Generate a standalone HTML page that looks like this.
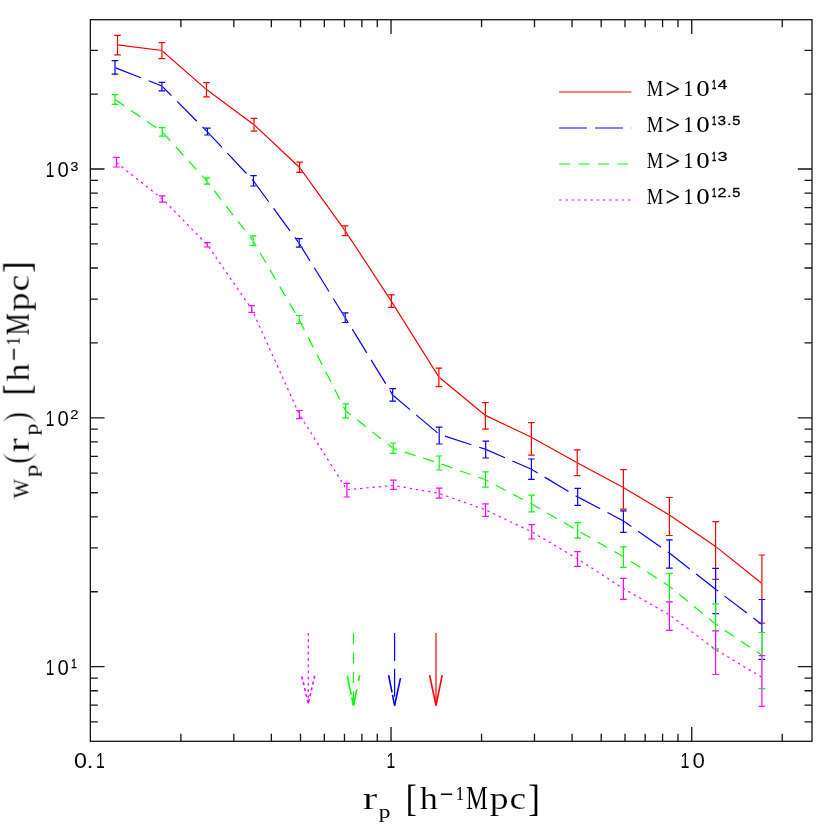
<!DOCTYPE html>
<html><head><meta charset="utf-8"><title>wp(rp)</title>
<style>
html,body{margin:0;padding:0;background:#fff;}
svg{display:block;}
text{font-family:"Liberation Serif",serif;fill:#000;}
.ss{font-family:"Liberation Sans",sans-serif;}
</style></head><body>
<svg width="830" height="830" viewBox="0 0 830 830">
<rect width="830" height="830" fill="#fff"/>

<g fill="none" stroke="#151515" stroke-width="1.3">
<rect x="90.35" y="19.7" width="721.65" height="721.60"/>
<path d="M391.04 741.30v-14.2M391.04 19.70v14.2M691.73 741.30v-14.2M691.73 19.70v14.2M180.87 741.30v-7.5M180.87 19.70v7.5M233.81 741.30v-7.5M233.81 19.70v7.5M271.38 741.30v-7.5M271.38 19.70v7.5M300.52 741.30v-7.5M300.52 19.70v7.5M324.33 741.30v-7.5M324.33 19.70v7.5M344.46 741.30v-7.5M344.46 19.70v7.5M361.90 741.30v-7.5M361.90 19.70v7.5M377.28 741.30v-7.5M377.28 19.70v7.5M481.55 741.30v-7.5M481.55 19.70v7.5M534.50 741.30v-7.5M534.50 19.70v7.5M572.07 741.30v-7.5M572.07 19.70v7.5M601.21 741.30v-7.5M601.21 19.70v7.5M625.02 741.30v-7.5M625.02 19.70v7.5M645.15 741.30v-7.5M645.15 19.70v7.5M662.59 741.30v-7.5M662.59 19.70v7.5M677.97 741.30v-7.5M677.97 19.70v7.5M782.24 741.30v-7.5M782.24 19.70v7.5M90.35 666.65h14.2M812.00 666.65h-14.2M90.35 417.82h14.2M812.00 417.82h-14.2M90.35 169.00h14.2M812.00 169.00h-14.2M90.35 721.85h7.5M812.00 721.85h-7.5M90.35 705.20h7.5M812.00 705.20h-7.5M90.35 690.77h7.5M812.00 690.77h-7.5M90.35 678.04h7.5M812.00 678.04h-7.5M90.35 591.75h7.5M812.00 591.75h-7.5M90.35 547.93h7.5M812.00 547.93h-7.5M90.35 516.84h7.5M812.00 516.84h-7.5M90.35 492.73h7.5M812.00 492.73h-7.5M90.35 473.03h7.5M812.00 473.03h-7.5M90.35 456.37h7.5M812.00 456.37h-7.5M90.35 441.94h7.5M812.00 441.94h-7.5M90.35 429.21h7.5M812.00 429.21h-7.5M90.35 342.92h7.5M812.00 342.92h-7.5M90.35 299.10h7.5M812.00 299.10h-7.5M90.35 268.02h7.5M812.00 268.02h-7.5M90.35 243.90h7.5M812.00 243.90h-7.5M90.35 224.20h7.5M812.00 224.20h-7.5M90.35 207.54h7.5M812.00 207.54h-7.5M90.35 193.11h7.5M812.00 193.11h-7.5M90.35 180.38h7.5M812.00 180.38h-7.5M90.35 94.09h7.5M812.00 94.09h-7.5M90.35 50.28h7.5M812.00 50.28h-7.5"/>
</g>
<g fill="none" stroke="#f00" stroke-width="1.2"><polyline points="117.5,44.9 161.9,50.5 206.5,89.6 254.0,124.8 299.6,167.5 345.2,230.8 391.4,301.3 438.9,377.0 485.4,415.4 531.4,437.3 577.2,462.7 623.4,487.5 669.4,515.1 715.6,546.4 761.9,583.5"/><path d="M117.5 35.4V54.9M114.2 35.4h6.6M114.2 54.9h6.6M161.9 42.7V58.6M158.6 42.7h6.6M158.6 58.6h6.6M206.5 82.7V96.9M203.2 82.7h6.6M203.2 96.9h6.6M254.0 118.4V131.2M250.7 118.4h6.6M250.7 131.2h6.6M299.6 162.2V172.3M296.3 162.2h6.6M296.3 172.3h6.6M345.2 225.8V235.7M341.9 225.8h6.6M341.9 235.7h6.6M391.4 294.8V307.3M388.1 294.8h6.6M388.1 307.3h6.6M438.9 368.1V386.6M435.6 368.1h6.6M435.6 386.6h6.6M485.4 402.7V429.2M482.1 402.7h6.6M482.1 429.2h6.6M531.4 422.7V455.2M528.1 422.7h6.6M528.1 455.2h6.6M577.2 449.9V475.7M573.9 449.9h6.6M573.9 475.7h6.6M623.4 469.7V509.2M620.1 469.7h6.6M620.1 509.2h6.6M669.4 497.5V535.5M666.1 497.5h6.6M666.1 535.5h6.6M715.6 521.6V579.4M712.3 521.6h6.6M712.3 579.4h6.6M761.9 555.0V623.2M758.6 555.0h6.6M758.6 623.2h6.6" stroke="#fff"/><path d="M117.5 35.4V54.9M114.2 35.4h6.6M114.2 54.9h6.6M161.9 42.7V58.6M158.6 42.7h6.6M158.6 58.6h6.6M206.5 82.7V96.9M203.2 82.7h6.6M203.2 96.9h6.6M254.0 118.4V131.2M250.7 118.4h6.6M250.7 131.2h6.6M299.6 162.2V172.3M296.3 162.2h6.6M296.3 172.3h6.6M345.2 225.8V235.7M341.9 225.8h6.6M341.9 235.7h6.6M391.4 294.8V307.3M388.1 294.8h6.6M388.1 307.3h6.6M438.9 368.1V386.6M435.6 368.1h6.6M435.6 386.6h6.6M485.4 402.7V429.2M482.1 402.7h6.6M482.1 429.2h6.6M531.4 422.7V455.2M528.1 422.7h6.6M528.1 455.2h6.6M577.2 449.9V475.7M573.9 449.9h6.6M573.9 475.7h6.6M623.4 469.7V509.2M620.1 469.7h6.6M620.1 509.2h6.6M669.4 497.5V535.5M666.1 497.5h6.6M666.1 535.5h6.6M715.6 521.6V579.4M712.3 521.6h6.6M712.3 579.4h6.6M761.9 555.0V623.2M758.6 555.0h6.6M758.6 623.2h6.6"/></g>
<g fill="none" stroke="#00f" stroke-width="1.2"><polyline points="115.0,67.6 161.9,86.0 207.4,131.9 253.5,181.0 299.2,243.4 345.2,317.7 392.7,395.0 439.2,434.3 485.7,449.4 531.4,469.2 577.7,496.9 623.4,521.0 669.4,553.1 715.6,589.2 761.9,624.5" stroke-dasharray="27.85 8.2" stroke-dashoffset="0"/><path d="M115.0 60.7V74.2M111.7 60.7h6.6M111.7 74.2h6.6M161.9 82.4V90.8M158.6 82.4h6.6M158.6 90.8h6.6M207.4 128.2V135.0M204.1 128.2h6.6M204.1 135.0h6.6M253.5 175.7V186.0M250.2 175.7h6.6M250.2 186.0h6.6M299.2 238.6V247.2M295.9 238.6h6.6M295.9 247.2h6.6M345.2 312.9V322.5M341.9 312.9h6.6M341.9 322.5h6.6M392.7 388.7V401.2M389.4 388.7h6.6M389.4 401.2h6.6M439.2 427.1V444.0M435.9 427.1h6.6M435.9 444.0h6.6M485.7 441.1V458.0M482.4 441.1h6.6M482.4 458.0h6.6M531.4 459.0V479.3M528.1 459.0h6.6M528.1 479.3h6.6M577.7 488.4V505.3M574.4 488.4h6.6M574.4 505.3h6.6M623.4 510.9V532.3M620.1 510.9h6.6M620.1 532.3h6.6M669.4 539.9V568.1M666.1 539.9h6.6M666.1 568.1h6.6M715.6 568.3V613.7M712.3 568.3h6.6M712.3 613.7h6.6M761.9 599.5V659.3M758.6 599.5h6.6M758.6 659.3h6.6" stroke="#fff"/><path d="M115.0 60.7V74.2M111.7 60.7h6.6M111.7 74.2h6.6M161.9 82.4V90.8M158.6 82.4h6.6M158.6 90.8h6.6M207.4 128.2V135.0M204.1 128.2h6.6M204.1 135.0h6.6M253.5 175.7V186.0M250.2 175.7h6.6M250.2 186.0h6.6M299.2 238.6V247.2M295.9 238.6h6.6M295.9 247.2h6.6M345.2 312.9V322.5M341.9 312.9h6.6M341.9 322.5h6.6M392.7 388.7V401.2M389.4 388.7h6.6M389.4 401.2h6.6M439.2 427.1V444.0M435.9 427.1h6.6M435.9 444.0h6.6M485.7 441.1V458.0M482.4 441.1h6.6M482.4 458.0h6.6M531.4 459.0V479.3M528.1 459.0h6.6M528.1 479.3h6.6M577.7 488.4V505.3M574.4 488.4h6.6M574.4 505.3h6.6M623.4 510.9V532.3M620.1 510.9h6.6M620.1 532.3h6.6M669.4 539.9V568.1M666.1 539.9h6.6M666.1 568.1h6.6M715.6 568.3V613.7M712.3 568.3h6.6M712.3 613.7h6.6M761.9 599.5V659.3M758.6 599.5h6.6M758.6 659.3h6.6"/></g>
<g fill="none" stroke="#0f0" stroke-width="1.2"><polyline points="115.0,99.5 162.3,132.0 206.9,181.2 253.1,240.8 299.2,319.9 345.7,410.8 393.1,448.3 439.2,463.3 485.5,479.8 531.7,504.1 577.7,530.6 623.4,556.7 669.4,586.2 715.6,624.1 761.9,655.2" stroke-dasharray="11.2 8.2" stroke-dashoffset="0"/><path d="M115.0 94.7V104.3M111.7 94.7h6.6M111.7 104.3h6.6M162.3 127.7V136.1M159.0 127.7h6.6M159.0 136.1h6.6M206.9 177.8V184.1M203.6 177.8h6.6M203.6 184.1h6.6M253.1 235.9V245.5M249.8 235.9h6.6M249.8 245.5h6.6M299.2 315.5V323.5M295.9 315.5h6.6M295.9 323.5h6.6M345.7 403.8V417.8M342.4 403.8h6.6M342.4 417.8h6.6M393.1 443.0V453.4M389.8 443.0h6.6M389.8 453.4h6.6M439.2 456.0V470.0M435.9 456.0h6.6M435.9 470.0h6.6M485.5 471.9V487.2M482.2 471.9h6.6M482.2 487.2h6.6M531.7 495.2V511.8M528.4 495.2h6.6M528.4 511.8h6.6M577.7 522.7V538.1M574.4 522.7h6.6M574.4 538.1h6.6M623.4 546.8V567.4M620.1 546.8h6.6M620.1 567.4h6.6M669.4 573.4V601.9M666.1 573.4h6.6M666.1 601.9h6.6M715.6 603.8V648.9M712.3 603.8h6.6M712.3 648.9h6.6M761.9 632.5V688.7M758.6 632.5h6.6M758.6 688.7h6.6" stroke="#fff"/><path d="M115.0 94.7V104.3M111.7 94.7h6.6M111.7 104.3h6.6M162.3 127.7V136.1M159.0 127.7h6.6M159.0 136.1h6.6M206.9 177.8V184.1M203.6 177.8h6.6M203.6 184.1h6.6M253.1 235.9V245.5M249.8 235.9h6.6M249.8 245.5h6.6M299.2 315.5V323.5M295.9 315.5h6.6M295.9 323.5h6.6M345.7 403.8V417.8M342.4 403.8h6.6M342.4 417.8h6.6M393.1 443.0V453.4M389.8 443.0h6.6M389.8 453.4h6.6M439.2 456.0V470.0M435.9 456.0h6.6M435.9 470.0h6.6M485.5 471.9V487.2M482.2 471.9h6.6M482.2 487.2h6.6M531.7 495.2V511.8M528.4 495.2h6.6M528.4 511.8h6.6M577.7 522.7V538.1M574.4 522.7h6.6M574.4 538.1h6.6M623.4 546.8V567.4M620.1 546.8h6.6M620.1 567.4h6.6M669.4 573.4V601.9M666.1 573.4h6.6M666.1 601.9h6.6M715.6 603.8V648.9M712.3 603.8h6.6M712.3 648.9h6.6M761.9 632.5V688.7M758.6 632.5h6.6M758.6 688.7h6.6"/></g>
<g fill="none" stroke="#f0f" stroke-width="1.2"><polyline points="116.5,162.7 162.3,198.8 207.3,244.8 251.7,309.0 299.4,414.6 346.9,489.8 393.4,485.4 439.2,493.4 485.5,509.8 531.7,531.8 577.5,558.8 623.4,588.6 669.4,614.8 715.6,649.6 761.9,677.3" stroke-dasharray="2.4 3.85" stroke-dashoffset="0"/><path d="M116.5 157.3V167.0M113.2 157.3h6.6M113.2 167.0h6.6M162.3 195.9V202.2M159.0 195.9h6.6M159.0 202.2h6.6M207.3 242.7V247.0M204.0 242.7h6.6M204.0 247.0h6.6M251.7 305.7V312.4M248.4 305.7h6.6M248.4 312.4h6.6M299.4 410.5V418.7M296.1 410.5h6.6M296.1 418.7h6.6M346.9 483.3V497.0M343.6 483.3h6.6M343.6 497.0h6.6M393.4 480.1V489.3M390.1 480.1h6.6M390.1 489.3h6.6M439.2 488.1V498.2M435.9 488.1h6.6M435.9 498.2h6.6M485.5 503.8V516.4M482.2 503.8h6.6M482.2 516.4h6.6M531.7 524.6V539.0M528.4 524.6h6.6M528.4 539.0h6.6M577.5 551.6V566.3M574.2 551.6h6.6M574.2 566.3h6.6M623.4 578.4V599.4M620.1 578.4h6.6M620.1 599.4h6.6M669.4 601.8V630.4M666.1 601.8h6.6M666.1 630.4h6.6M715.6 630.9V674.5M712.3 630.9h6.6M712.3 674.5h6.6M761.9 655.7V706.3M758.6 655.7h6.6M758.6 706.3h6.6" stroke="#fff"/><path d="M116.5 157.3V167.0M113.2 157.3h6.6M113.2 167.0h6.6M162.3 195.9V202.2M159.0 195.9h6.6M159.0 202.2h6.6M207.3 242.7V247.0M204.0 242.7h6.6M204.0 247.0h6.6M251.7 305.7V312.4M248.4 305.7h6.6M248.4 312.4h6.6M299.4 410.5V418.7M296.1 410.5h6.6M296.1 418.7h6.6M346.9 483.3V497.0M343.6 483.3h6.6M343.6 497.0h6.6M393.4 480.1V489.3M390.1 480.1h6.6M390.1 489.3h6.6M439.2 488.1V498.2M435.9 488.1h6.6M435.9 498.2h6.6M485.5 503.8V516.4M482.2 503.8h6.6M482.2 516.4h6.6M531.7 524.6V539.0M528.4 524.6h6.6M528.4 539.0h6.6M577.5 551.6V566.3M574.2 551.6h6.6M574.2 566.3h6.6M623.4 578.4V599.4M620.1 578.4h6.6M620.1 599.4h6.6M669.4 601.8V630.4M666.1 601.8h6.6M666.1 630.4h6.6M715.6 630.9V674.5M712.3 630.9h6.6M712.3 674.5h6.6M761.9 655.7V706.3M758.6 655.7h6.6M758.6 706.3h6.6"/></g>
<g fill="none" stroke="#f00" stroke-width="1.2"><path d="M436.0 633.0V705.5"/><path d="M429.6 675.2L436.0 705.5" stroke-width="1.6"/><path d="M442.2 675.2L436.0 705.5" stroke-width="1.6"/></g>
<g fill="none" stroke="#00f" stroke-width="1.2"><path d="M394.6 633.0V705.5" stroke-dasharray="28 7.8"/><path d="M388.6 675.2L394.6 705.5" stroke-dasharray="17.5 2.5 20" stroke-width="1.6"/><path d="M400.5 678.2L394.6 705.5" stroke-width="1.6"/></g>
<g fill="none" stroke="#0f0" stroke-width="1.2"><path d="M353.5 633.0V705.5" stroke-dasharray="11.2 8.2"/><path d="M347.2 675.8L353.5 705.5" stroke-dasharray="19.5 2.5 20" stroke-width="1.6"/><path d="M359.7 675.2L353.5 705.5" stroke-dasharray="5.8 8.6 30" stroke-width="1.6"/></g>
<g fill="none" stroke="#f0f" stroke-width="1.2"><path d="M308.3 633.0V703.6" stroke-dasharray="2.65 3.6"/><path d="M301.8 676.4L308.3 703.6" stroke-dasharray="3.0 3.0" stroke-width="1.6"/><path d="M314.7 675.8L308.3 703.6" stroke-dasharray="3.0 3.0" stroke-width="1.6"/></g>
<g fill="none" stroke-width="1.2">
<path d="M559.1 92.0H631.4" stroke="#f00"/>
<path d="M559.1 128.0H631.4" stroke="#00f" stroke-dasharray="27.8 8.2"/>
<path d="M559.1 164.0H631.4" stroke="#0f0" stroke-dasharray="11.2 8.2"/>
<path d="M559.1 200.0H631.4" stroke="#f0f" stroke-dasharray="2.65 3.6"/>
</g>
<g id="labels" style="filter:grayscale(1)">
<text transform="matrix(0.7828 0 0 1 646.76 95.70)" font-size="23.82" style="font-family:&quot;Liberation Serif&quot;" >M</text>
<text transform="matrix(0.9729 0 0 1 665.57 97.95)" font-size="26.95" style="font-family:&quot;Liberation Serif&quot;"  stroke="#000" stroke-width="0.26">&gt;</text>
<text transform="matrix(0.8775 0 0 1 683.28 95.70)" font-size="23.63" style="font-family:&quot;Liberation Serif&quot;" >1</text>
<text transform="matrix(1.1204 0 0 1 696.28 95.77)" font-size="24.01" style="font-family:&quot;Liberation Serif&quot;" >0</text>
<text transform="matrix(0.5602 0 0 1 712.12 88.80)" font-size="13.66" style="font-family:&quot;Liberation Sans&quot;"  stroke="#000" stroke-width="0.62">1</text>
<text transform="matrix(1.2491 0 0 1 717.81 88.80)" font-size="13.66" style="font-family:&quot;Liberation Sans&quot;"  stroke="#000" stroke-width="0.28">4</text>
<text transform="matrix(0.7828 0 0 1 646.76 131.70)" font-size="23.82" style="font-family:&quot;Liberation Serif&quot;" >M</text>
<text transform="matrix(0.9729 0 0 1 665.57 133.95)" font-size="26.95" style="font-family:&quot;Liberation Serif&quot;"  stroke="#000" stroke-width="0.26">&gt;</text>
<text transform="matrix(0.8775 0 0 1 683.28 131.70)" font-size="23.63" style="font-family:&quot;Liberation Serif&quot;" >1</text>
<text transform="matrix(1.1204 0 0 1 696.28 131.77)" font-size="24.01" style="font-family:&quot;Liberation Serif&quot;" >0</text>
<text transform="matrix(0.5602 0 0 1 712.12 124.80)" font-size="13.66" style="font-family:&quot;Liberation Sans&quot;"  stroke="#000" stroke-width="0.62">1</text>
<text transform="matrix(1.1475 0 0 1 717.61 124.77)" font-size="13.42" style="font-family:&quot;Liberation Sans&quot;"  stroke="#000" stroke-width="0.31">3</text>
<text transform="matrix(1.2835 0 0 1 726.97 124.80)" font-size="13.09" style="font-family:&quot;Liberation Sans&quot;"  stroke="#000" stroke-width="0.16">.</text>
<text transform="matrix(1.0689 0 0 1 732.22 124.77)" font-size="13.62" style="font-family:&quot;Liberation Sans&quot;"  stroke="#000" stroke-width="0.33">5</text>
<text transform="matrix(0.7828 0 0 1 646.76 167.70)" font-size="23.82" style="font-family:&quot;Liberation Serif&quot;" >M</text>
<text transform="matrix(0.9729 0 0 1 665.57 169.95)" font-size="26.95" style="font-family:&quot;Liberation Serif&quot;"  stroke="#000" stroke-width="0.26">&gt;</text>
<text transform="matrix(0.8775 0 0 1 683.28 167.70)" font-size="23.63" style="font-family:&quot;Liberation Serif&quot;" >1</text>
<text transform="matrix(1.1204 0 0 1 696.28 167.77)" font-size="24.01" style="font-family:&quot;Liberation Serif&quot;" >0</text>
<text transform="matrix(0.5602 0 0 1 712.12 160.80)" font-size="13.66" style="font-family:&quot;Liberation Sans&quot;"  stroke="#000" stroke-width="0.62">1</text>
<text transform="matrix(1.3518 0 0 1 717.51 160.77)" font-size="13.42" style="font-family:&quot;Liberation Sans&quot;"  stroke="#000" stroke-width="0.26">3</text>
<text transform="matrix(0.7828 0 0 1 646.76 203.70)" font-size="23.82" style="font-family:&quot;Liberation Serif&quot;" >M</text>
<text transform="matrix(0.9729 0 0 1 665.57 205.95)" font-size="26.95" style="font-family:&quot;Liberation Serif&quot;"  stroke="#000" stroke-width="0.26">&gt;</text>
<text transform="matrix(0.8775 0 0 1 683.28 203.70)" font-size="23.63" style="font-family:&quot;Liberation Serif&quot;" >1</text>
<text transform="matrix(1.1204 0 0 1 696.28 203.77)" font-size="24.01" style="font-family:&quot;Liberation Serif&quot;" >0</text>
<text transform="matrix(0.5602 0 0 1 712.12 196.80)" font-size="13.66" style="font-family:&quot;Liberation Sans&quot;"  stroke="#000" stroke-width="0.62">1</text>
<text transform="matrix(1.1778 0 0 1 717.39 196.90)" font-size="13.61" style="font-family:&quot;Liberation Sans&quot;"  stroke="#000" stroke-width="0.30">2</text>
<text transform="matrix(1.2835 0 0 1 726.97 196.80)" font-size="13.09" style="font-family:&quot;Liberation Sans&quot;"  stroke="#000" stroke-width="0.16">.</text>
<text transform="matrix(1.0689 0 0 1 732.22 196.77)" font-size="13.62" style="font-family:&quot;Liberation Sans&quot;"  stroke="#000" stroke-width="0.33">5</text>
<text transform="matrix(1.0960 0 0 1 73.99 767.89)" font-size="21.19" style="font-family:&quot;Liberation Sans&quot;" >0</text>
<text transform="matrix(1.2835 0 0 1 86.60 767.90)" font-size="19.64" style="font-family:&quot;Liberation Sans&quot;" >.</text>
<text transform="matrix(0.7432 0 0 1 95.90 767.90)" font-size="21.22" style="font-family:&quot;Liberation Sans&quot;" >1</text>
<text transform="matrix(0.7432 0 0 1 386.60 767.90)" font-size="21.22" style="font-family:&quot;Liberation Sans&quot;" >1</text>
<text transform="matrix(0.7651 0 0 1 680.46 767.90)" font-size="21.22" style="font-family:&quot;Liberation Sans&quot;" >1</text>
<text transform="matrix(1.0466 0 0 1 692.43 767.89)" font-size="21.19" style="font-family:&quot;Liberation Sans&quot;" >0</text>
<text transform="matrix(0.7175 0 0 1 45.72 674.55)" font-size="21.66" style="font-family:&quot;Liberation Sans&quot;" >1</text>
<text transform="matrix(0.9390 0 0 1 57.61 674.54)" font-size="21.61" style="font-family:&quot;Liberation Sans&quot;" >0</text>
<text transform="matrix(0.8066 0 0 1 71.09 668.35)" font-size="13.23" style="font-family:&quot;Liberation Sans&quot;"  stroke="#000" stroke-width="0.31">1</text>
<text transform="matrix(0.7175 0 0 1 45.72 425.72)" font-size="21.66" style="font-family:&quot;Liberation Sans&quot;" >1</text>
<text transform="matrix(0.9390 0 0 1 57.61 425.71)" font-size="21.61" style="font-family:&quot;Liberation Sans&quot;" >0</text>
<text transform="matrix(1.1941 0 0 1 70.26 418.92)" font-size="12.32" style="font-family:&quot;Liberation Sans&quot;"  stroke="#000" stroke-width="0.13">2</text>
<text transform="matrix(0.7175 0 0 1 45.72 176.90)" font-size="21.66" style="font-family:&quot;Liberation Sans&quot;" >1</text>
<text transform="matrix(0.9390 0 0 1 57.61 176.89)" font-size="21.61" style="font-family:&quot;Liberation Sans&quot;" >0</text>
<text transform="matrix(1.0875 0 0 1 70.46 170.67)" font-size="12.99" style="font-family:&quot;Liberation Sans&quot;"  stroke="#000" stroke-width="0.14">3</text>
<text transform="matrix(1.3553 0 0 1 362.82 809.20)" font-size="32.26" style="font-family:&quot;Liberation Serif&quot;"  stroke="#fff" stroke-width="0.16">r</text>
<text transform="matrix(1.2303 0 0 1 378.72 817.75)" font-size="19.00" style="font-family:&quot;Liberation Serif&quot;" >p</text>
<text transform="matrix(0.8816 0 0 1 405.63 810.66)" font-size="37.70" style="font-family:&quot;Liberation Serif&quot;" >[</text>
<text transform="matrix(1.1758 0 0 1 419.75 809.20)" font-size="30.84" style="font-family:&quot;Liberation Serif&quot;"  stroke="#fff" stroke-width="0.19">h</text>
<text transform="matrix(0.7358 0 0 1 439.82 805.17)" font-size="32.13" style="font-family:&quot;Liberation Serif&quot;"  stroke="#000" stroke-width="0.14">−</text>
<text transform="matrix(0.8334 0 0 1 455.90 799.70)" font-size="19.09" style="font-family:&quot;Liberation Serif&quot;"  stroke="#000" stroke-width="0.24">1</text>
<text transform="matrix(0.7511 0 0 1 465.99 809.20)" font-size="32.68" style="font-family:&quot;Liberation Serif&quot;" >M</text>
<text transform="matrix(1.2073 0 0 1 489.79 809.04)" font-size="31.28" style="font-family:&quot;Liberation Serif&quot;"  stroke="#fff" stroke-width="0.18">p</text>
<text transform="matrix(1.1743 0 0 1 509.57 809.19)" font-size="32.02" style="font-family:&quot;Liberation Serif&quot;"  stroke="#fff" stroke-width="0.19">c</text>
<text transform="matrix(0.9293 0 0 1 528.13 810.66)" font-size="37.70" style="font-family:&quot;Liberation Serif&quot;" >]</text>
<g transform="translate(28.7,498.7) rotate(-90)">
<text transform="matrix(0.8519 0 0 1 -0.03 -0.02)" font-size="32.43" style="font-family:&quot;Liberation Serif&quot;"  stroke="#fff" stroke-width="0.26">w</text>
<text transform="matrix(1.2873 0 0 1 21.39 8.70)" font-size="19.73" style="font-family:&quot;Liberation Serif&quot;" >p</text>
<text transform="matrix(1.0027 0 0 1 34.26 -0.14)" font-size="37.28" style="font-family:&quot;Liberation Serif&quot;"  stroke="#fff" stroke-width="1.00">(</text>
<text transform="matrix(1.2840 0 0 1 46.87 0.00)" font-size="32.26" style="font-family:&quot;Liberation Serif&quot;"  stroke="#fff" stroke-width="0.17">r</text>
<text transform="matrix(1.2075 0 0 1 63.22 8.70)" font-size="19.73" style="font-family:&quot;Liberation Serif&quot;" >p</text>
<text transform="matrix(1.0027 0 0 1 75.10 -0.14)" font-size="37.28" style="font-family:&quot;Liberation Serif&quot;"  stroke="#fff" stroke-width="1.00">)</text>
<text transform="matrix(0.8816 0 0 1 103.23 1.46)" font-size="37.70" style="font-family:&quot;Liberation Serif&quot;" >[</text>
<text transform="matrix(1.1758 0 0 1 117.35 0.00)" font-size="30.84" style="font-family:&quot;Liberation Serif&quot;"  stroke="#fff" stroke-width="0.19">h</text>
<text transform="matrix(0.7358 0 0 1 137.42 -4.03)" font-size="32.13" style="font-family:&quot;Liberation Serif&quot;"  stroke="#000" stroke-width="0.14">−</text>
<text transform="matrix(0.8334 0 0 1 153.50 -9.50)" font-size="19.09" style="font-family:&quot;Liberation Serif&quot;"  stroke="#000" stroke-width="0.24">1</text>
<text transform="matrix(0.7511 0 0 1 163.59 0.00)" font-size="32.68" style="font-family:&quot;Liberation Serif&quot;" >M</text>
<text transform="matrix(1.2073 0 0 1 187.39 -0.16)" font-size="31.28" style="font-family:&quot;Liberation Serif&quot;"  stroke="#fff" stroke-width="0.18">p</text>
<text transform="matrix(1.1743 0 0 1 207.17 -0.01)" font-size="32.02" style="font-family:&quot;Liberation Serif&quot;"  stroke="#fff" stroke-width="0.19">c</text>
<text transform="matrix(0.9293 0 0 1 225.73 1.46)" font-size="37.70" style="font-family:&quot;Liberation Serif&quot;" >]</text>
</g>
</g>
</svg></body></html>
